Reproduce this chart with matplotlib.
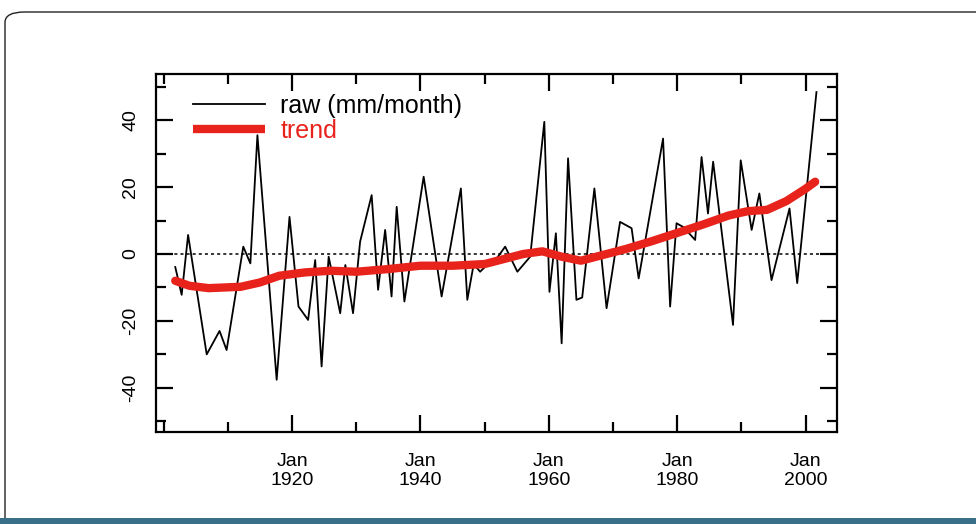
import matplotlib
matplotlib.use("Agg")
import matplotlib.pyplot as plt
from matplotlib.patches import FancyBboxPatch, Rectangle
from matplotlib.ticker import FixedLocator, MultipleLocator

plt.rcParams["axes.unicode_minus"] = False

# ---- data ----
raw_years = [1901.8, 1902.8, 1903.8, 1906.7, 1908.7, 1909.8, 1912.4, 1913.5, 1914.6,
             1917.6, 1919.6, 1921.0, 1922.5, 1923.6, 1924.6, 1925.7, 1927.5, 1928.3,
             1929.5, 1930.6, 1932.4, 1933.4, 1934.5, 1935.5, 1936.3, 1937.5, 1940.5,
             1943.3, 1946.3, 1947.3, 1948.3, 1949.3, 1950.5, 1952.0, 1953.2, 1955.1,
             1957.1, 1959.3, 1960.1, 1961.1, 1962.0, 1963.0, 1964.3, 1965.2, 1967.1,
             1969.0, 1971.1, 1972.9, 1974.0, 1977.8, 1978.9, 1979.9, 1981.0, 1982.8,
             1983.8, 1984.8, 1985.6, 1988.7, 1989.9, 1991.6, 1992.8, 1994.7, 1997.5,
             1998.7, 2001.7]
raw_values = [-3.9, -12.2, 5.7, -30.0, -23.0, -28.7, 2.2, -2.8, 35.5,
              -37.6, 11.1, -15.7, -19.7, -1.8, -33.6, -0.8, -17.7, -3.3,
              -17.7, 3.7, 17.6, -10.7, 7.2, -12.7, 14.1, -14.2, 23.1,
              -12.7, 19.6, -13.7, -3.0, -5.3, -3.0, -1.0, 2.2, -5.3,
              -0.8, 39.5, -11.3, 6.2, -26.7, 28.6, -13.7, -13.0, 19.6,
              -16.2, 9.6, 7.7, -7.3, 34.5, -15.7, 9.2, 8.0, 4.2,
              29.0, 12.1, 27.6, -21.2, 28.0, 7.2, 18.1, -7.8, 13.6,
              -8.7, 48.4]

trend_years = [1901.8, 1904, 1907, 1912, 1915, 1918, 1922, 1926, 1930, 1935, 1940,
               1945, 1950, 1953, 1956, 1959, 1962, 1965, 1968, 1972, 1976, 1980,
               1984, 1988, 1991, 1994, 1997, 2000, 2001.5]
trend_values = [-8.0, -9.5, -10.2, -9.8, -8.5, -6.5, -5.5, -5.0, -5.3, -4.5, -3.5,
                -3.5, -3.0, -1.5, 0.0, 0.8, -0.8, -2.0, -0.5, 1.5, 3.8, 6.3,
                8.8, 11.5, 12.8, 13.2, 15.8, 19.5, 21.6]

label_years = [1920, 1940, 1960, 1980, 2000]
x_labels = ["Jan\n1920", "Jan\n1940", "Jan\n1960", "Jan\n1980", "Jan\n2000"]
y_label_values = [-40, -20, 0, 20, 40]

RED = "#e8231c"
FONT = ["Liberation Sans", "DejaVu Sans"]

fig = plt.figure(figsize=(9.76, 5.24), dpi=100)
W, H = 976, 524

# outer rounded frame and bottom teal band
frame = FancyBboxPatch((5 / W, -0.2), 1.2, (524 - 12) / H + 0.2,
                       boxstyle="round,pad=0,rounding_size=0.02",
                       transform=fig.transFigure, fill=False,
                       edgecolor="#222222", linewidth=1.0)
fig.patches.append(frame)
band = Rectangle((0, 0), 1, 6 / H, transform=fig.transFigure,
                 facecolor="#3a6f8a", edgecolor="none")
fig.patches.append(band)

ax = fig.add_axes([156 / W, (524 - 432) / H, (837 - 156) / W, (432 - 74) / H])

ax.axhline(0, color="black", linestyle=(0, (2, 2)), linewidth=1.1, zorder=1)
ax.plot(raw_years, raw_values, color="black", linewidth=1.3,
        label="raw (mm/month)", zorder=2)
ax.plot(trend_years, trend_values, color=RED, linewidth=6,
        solid_capstyle="round", label="trend", zorder=3)

ax.set_xlim(1898.8, 2004.9)
ax.set_ylim(-53.2, 53.8)

ax.xaxis.set_major_locator(FixedLocator(label_years))
ax.set_xticklabels(x_labels)
ax.xaxis.set_minor_locator(MultipleLocator(10))
ax.yaxis.set_major_locator(FixedLocator(y_label_values))
ax.yaxis.set_minor_locator(MultipleLocator(10))

ax.tick_params(which="both", direction="in", top=True, right=True,
               width=1.6, color="black")
ax.tick_params(which="major", length=12)
ax.tick_params(which="minor", length=7)
ax.tick_params(axis="x", which="major", pad=15)
ax.tick_params(axis="y", which="major", pad=12)

for lbl in ax.get_xticklabels():
    lbl.set_family(FONT)
    lbl.set_fontsize(14)
    lbl.set_linespacing(1.15)
for lbl in ax.get_yticklabels():
    lbl.set_family(FONT)
    lbl.set_fontsize(14)
    lbl.set_rotation(90)
    lbl.set_va("center")

for s in ax.spines.values():
    s.set_linewidth(1.6)

leg = ax.legend(loc="upper left", bbox_to_anchor=(0.0543, 0.944), frameon=False,
                borderaxespad=0, borderpad=0,
                handlelength=2.9, handletextpad=0.6, labelspacing=0.02,
                prop={"family": FONT, "size": 18})
for txt, col in zip(leg.get_texts(), ["black", RED]):
    txt.set_color(col)
leg.get_lines()[1].set_linewidth(6)
leg.get_lines()[1].set_solid_capstyle("butt")

fig.savefig("out.png", dpi=100)
